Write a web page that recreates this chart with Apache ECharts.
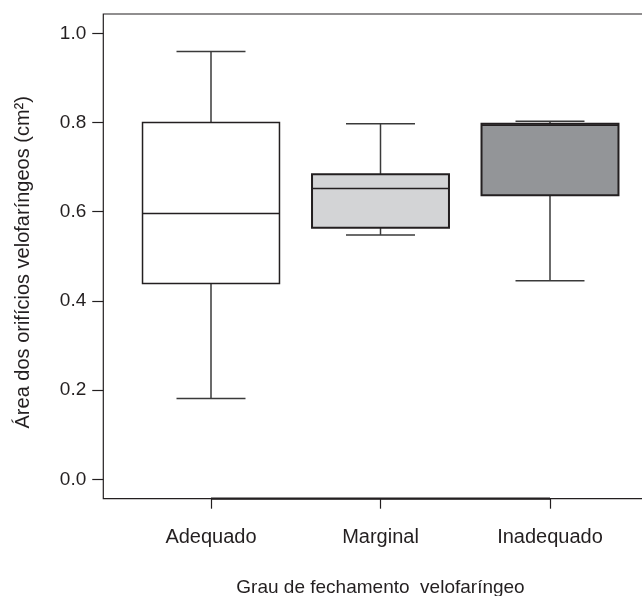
<!DOCTYPE html>
<html>
<head>
<meta charset="utf-8">
<script src="https://cdn.jsdelivr.net/npm/echarts@6/dist/echarts.min.js"></script>
<style>html,body{margin:0;padding:0;background:#fff;}#c{width:642px;height:596px;}</style>
</head>
<body>
<div id="c"></div>
<script>
// Data
var categories = ['Adequado', 'Marginal', 'Inadequado'];
var whiskerLow = [0.181, 0.548, 0.445];
var q1 = [0.439, 0.564, 0.637];
var median = [0.596, 0.652, 0.794];
var q3 = [0.800, 0.684, 0.797];
var whiskerHigh = [0.959, 0.797, 0.803];
var yTicks = [0, 0.2, 0.4, 0.6, 0.8, 1.0];

var fills = ['#ffffff', '#d3d4d6', '#939598'];
var borderW = [1.5, 2, 2];
var ink = '#231f20';
var font = "'Liberation Sans', Arial, Helvetica, sans-serif";

var boxData = categories.map(function (c, i) {
  return [i, whiskerLow[i], q1[i], median[i], q3[i], whiskerHigh[i]];
});

function renderItem(params, api) {
  var i = api.value(0);
  var band = api.size([1, 0])[0];
  var bw = band * 0.808;
  var cw = band * 0.407;
  var pLo = api.coord([i, api.value(1)]);
  var pQ1 = api.coord([i, api.value(2)]);
  var pMed = api.coord([i, api.value(3)]);
  var pQ3 = api.coord([i, api.value(4)]);
  var pHi = api.coord([i, api.value(5)]);
  var x = pMed[0];
  var lineStyle = { stroke: '#3a3a3a', lineWidth: 1.5 };
  return {
    type: 'group',
    children: [
      { type: 'line', shape: { x1: x, y1: pQ3[1], x2: x, y2: pHi[1] }, style: lineStyle },
      { type: 'line', shape: { x1: x, y1: pQ1[1], x2: x, y2: pLo[1] }, style: lineStyle },
      { type: 'line', shape: { x1: x - cw / 2, y1: pHi[1], x2: x + cw / 2, y2: pHi[1] }, style: lineStyle },
      { type: 'line', shape: { x1: x - cw / 2, y1: pLo[1], x2: x + cw / 2, y2: pLo[1] }, style: lineStyle },
      { type: 'rect', shape: { x: x - bw / 2, y: pQ3[1], width: bw, height: pQ1[1] - pQ3[1] },
        style: { fill: fills[i], stroke: ink, lineWidth: borderW[i] } },
      { type: 'line', shape: { x1: x - bw / 2, y1: pMed[1], x2: x + bw / 2, y2: pMed[1] },
        style: { stroke: ink, lineWidth: 1.5 } }
    ]
  };
}

var chart = echarts.init(document.getElementById('c'));
chart.setOption({
  animation: false,
  backgroundColor: '#ffffff',
  textStyle: { fontFamily: font },
  grid: [
    { left: 126.25, right: 7.25, top: 33.3, bottom: 116.7, outerBoundsMode: 'none' },
    { left: 103.3, right: -3, top: 14, bottom: 97.3, show: true, borderColor: ink, borderWidth: 1.2,
      backgroundColor: 'transparent', outerBoundsMode: 'none' },
    { left: 126.25, right: 7.25, top: 33.3, bottom: 97.3, outerBoundsMode: 'none' }
  ],
  xAxis: [
    { type: 'category', data: categories, gridIndex: 0, boundaryGap: true, show: false },
    { type: 'value', gridIndex: 1, show: false },
    {
      type: 'category', data: categories, gridIndex: 2, boundaryGap: true,
      axisLine: { show: false },
      axisTick: { show: true, alignWithLabel: true, length: 10, lineStyle: { color: ink, width: 1.2 } },
      axisLabel: { color: ink, fontSize: 20, margin: 29, fontFamily: font },
      name: 'Grau de fechamento  velofaríngeo', nameLocation: 'middle', nameGap: 80,
      nameTextStyle: { color: ink, fontSize: 19, fontFamily: font }
    }
  ],
  yAxis: [
    {
      type: 'value', gridIndex: 0, min: 0, max: 1, interval: 0.2, offset: 23,
      axisLine: { show: false },
      axisTick: { show: true, length: 11, lineStyle: { color: ink, width: 1.2 } },
      splitLine: { show: false },
      axisLabel: { color: ink, fontSize: 19, margin: 17, fontFamily: font,
        formatter: function (v) { return yTicks.indexOf(Math.round(v * 10) / 10) >= 0 ? v.toFixed(1) : ''; } },
      name: 'Área dos orifícios velofaríngeos (cm²)', nameLocation: 'middle', nameGap: 70,
      nameTextStyle: { color: ink, fontSize: 20, fontFamily: font, padding: [0, 12, 0, 0] }
    },
    { type: 'value', gridIndex: 1, show: false },
    { type: 'value', gridIndex: 2, min: 0, max: 1, show: false }
  ],
  series: [
    {
      type: 'custom', xAxisIndex: 0, yAxisIndex: 0, renderItem: renderItem, data: boxData,
      encode: { x: 0, y: [1, 2, 3, 4, 5] }, clip: false, silent: true
    },
    {
      type: 'line', xAxisIndex: 2, yAxisIndex: 2, clip: false, silent: true, symbol: 'none',
      data: categories.map(function () { return 0; }),
      lineStyle: { color: ink, width: 2.2 }, z: 5
    }
  ]
});
</script>
</body>
</html>
